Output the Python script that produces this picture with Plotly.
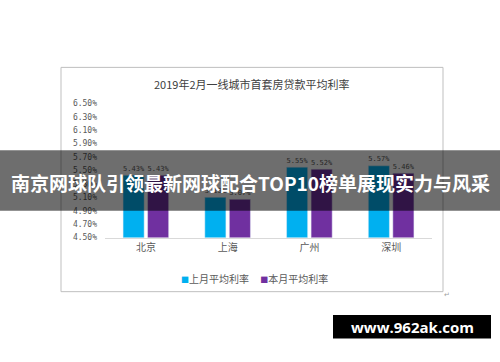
import plotly.graph_objects as go

cities = ["北京", "上海", "广州", "深圳"]
last_month = [5.43, 5.10, 5.55, 5.57]
this_month = [5.43, 5.07, 5.52, 5.46]
series_names = ["上月平均利率", "本月平均利率"]
series_colors = ["#00B0F0", "#7030A0"]
y_ticks = [4.5, 4.7, 4.9, 5.1, 5.3, 5.5, 5.7, 5.9, 6.1, 6.3, 6.5]
title_text = "2019年2月一线城市首套房贷款平均利率"
banner_text = "南京网球队引领最新网球配合TOP10榜单展现实力与风采"
watermark_text = "www.962ak.com"

W, H = 500, 362
def py(p):  # pixel y from top -> paper
    return 1 - p / H
def px(p):
    return p / W

fig = go.Figure()
for name, vals, col in zip(series_names, [last_month, this_month], series_colors):
    fig.add_trace(go.Bar(
        x=cities, y=vals, name=name, marker_color=col,
        texttemplate="%{y:.2f}%", textposition="outside",
        textfont=dict(size=8.5, color="#595959", family="DejaVu Sans Mono"),
        cliponaxis=False, showlegend=False,
    ))

fig.update_layout(
    width=W, height=H,
    margin=dict(l=0, r=0, t=0, b=0),
    paper_bgcolor="white", plot_bgcolor="white",
    barmode="group", bargap=0.4, bargroupgap=0.14,
    xaxis=dict(domain=[px(105), px(432)], showline=True, linecolor="#D9D9D9", linewidth=1,
               ticks="", tickfont=dict(size=10, color="#595959", family="Noto Sans CJK SC"),
               fixedrange=True),
    yaxis=dict(domain=[py(239.5), py(102)], range=[4.5, 6.5], tickvals=y_ticks,
               ticktext=[f"{v:.2f}%" for v in y_ticks], showgrid=False, zeroline=False,
               showline=False, ticks="",
               tickfont=dict(size=8, color="#595959", family="DejaVu Sans Mono"),
               ticklabelstandoff=7),
    font=dict(family="Noto Sans CJK SC"),
)

shapes = [
    dict(type="rect", xref="paper", yref="paper", x0=px(61), x1=px(443), y0=py(295), y1=py(65),
         line=dict(color="#BFBFBF", width=1), fillcolor="rgba(0,0,0,0)", layer="below"),
    dict(type="rect", xref="paper", yref="paper", x0=0, x1=1, y0=py(212), y1=py(150),
         line=dict(width=0), fillcolor="rgba(0,0,0,0.57)", layer="above"),
    dict(type="rect", xref="paper", yref="paper", x0=px(333), x1=px(491), y0=py(343), y1=py(319),
         line=dict(width=0), fillcolor="black", layer="above"),
]
fig.update_layout(shapes=shapes)

legend_html = "     ".join(
    f"<span style='color:{c};font-size:8px'>■</span>{n}" for n, c in zip(series_names, series_colors))

annotations = [
    dict(text=title_text, xref="paper", yref="paper", x=px(252), y=py(82), showarrow=False,
         font=dict(size=11, color="#404040", family="Noto Sans CJK SC"), xanchor="center", yanchor="middle"),
    dict(text=legend_html, xref="paper", yref="paper", x=px(254), y=py(282), showarrow=False,
         font=dict(size=10, color="#595959", family="Noto Sans CJK SC"), xanchor="center", yanchor="middle"),
    dict(text=f"<b>{banner_text}</b>", xref="paper", yref="paper", x=0.5, y=py(183), showarrow=False,
         font=dict(size=19, color="white", family="Noto Sans CJK SC"), xanchor="center", yanchor="middle"),
    dict(text=f"<b>{watermark_text}</b>", xref="paper", yref="paper", x=px(412), y=py(331), showarrow=False,
         font=dict(size=15, color="white", family="Open Sans"), xanchor="center", yanchor="middle"),
    dict(text="↵", xref="paper", yref="paper", x=px(447), y=py(297), showarrow=False,
         font=dict(size=7, color="#A0A0A0"), xanchor="center", yanchor="middle"),
]
fig.update_layout(annotations=annotations)

fig.write_html("out.html", config={"displayModeBar": False},
               post_script="document.body.style.margin='0';document.body.style.overflow='hidden';")
